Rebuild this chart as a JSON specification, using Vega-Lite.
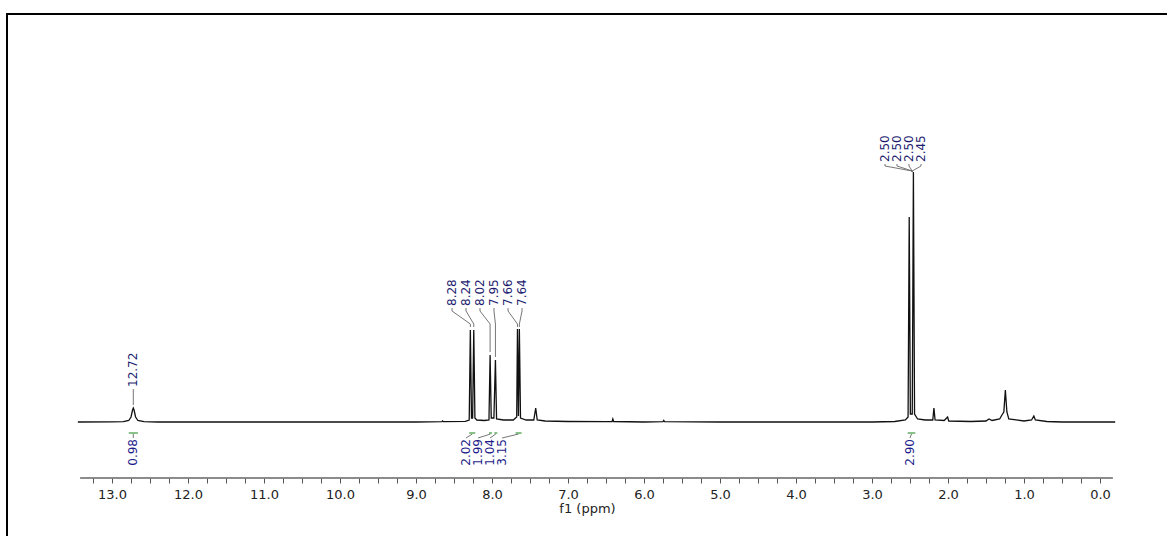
{
  "$schema": "https://vega.github.io/schema/vega-lite/v6.json",
  "autosize": "none",
  "width": 1160,
  "height": 522,
  "padding": {"left": 7, "top": 14, "right": 0, "bottom": 0},
  "background": "white",
  "config": {
    "view": {"stroke": "#000", "strokeWidth": 2, "strokeDash": [1160, 1682, 522]},
    "font": "DejaVu Sans"
  },
  "datasets": {
    "spec": [
      {"ppm": 13.45, "i": 0}, {"ppm": 13.0, "i": 0.2}, {"ppm": 12.85, "i": 0.4}, {"ppm": 12.78, "i": 1.5},
      {"ppm": 12.75, "i": 5}, {"ppm": 12.73, "i": 12}, {"ppm": 12.72, "i": 14}, {"ppm": 12.71, "i": 12},
      {"ppm": 12.69, "i": 5}, {"ppm": 12.66, "i": 1.5}, {"ppm": 12.58, "i": 0.4}, {"ppm": 12.4, "i": 0},
      {"ppm": 11.0, "i": 0}, {"ppm": 10.0, "i": 0}, {"ppm": 9.0, "i": 0}, {"ppm": 8.66, "i": 0.3},
      {"ppm": 8.65, "i": 1}, {"ppm": 8.64, "i": 0.3}, {"ppm": 8.35, "i": 0.6}, {"ppm": 8.30, "i": 2},
      {"ppm": 8.285, "i": 92}, {"ppm": 8.27, "i": 4}, {"ppm": 8.255, "i": 4}, {"ppm": 8.24, "i": 92},
      {"ppm": 8.225, "i": 4}, {"ppm": 8.2, "i": 2}, {"ppm": 8.1, "i": 1.5}, {"ppm": 8.04, "i": 2},
      {"ppm": 8.025, "i": 67}, {"ppm": 8.01, "i": 4}, {"ppm": 7.975, "i": 4}, {"ppm": 7.955, "i": 62},
      {"ppm": 7.94, "i": 3}, {"ppm": 7.85, "i": 2}, {"ppm": 7.72, "i": 2}, {"ppm": 7.675, "i": 5},
      {"ppm": 7.665, "i": 93}, {"ppm": 7.652, "i": 6}, {"ppm": 7.64, "i": 93}, {"ppm": 7.625, "i": 4},
      {"ppm": 7.55, "i": 2}, {"ppm": 7.45, "i": 2}, {"ppm": 7.425, "i": 14}, {"ppm": 7.405, "i": 2},
      {"ppm": 7.3, "i": 1}, {"ppm": 7.0, "i": 0.5}, {"ppm": 6.5, "i": 0.3}, {"ppm": 6.42, "i": 0.5},
      {"ppm": 6.41, "i": 3}, {"ppm": 6.40, "i": 0.5}, {"ppm": 6.0, "i": 0}, {"ppm": 5.75, "i": 0.3},
      {"ppm": 5.74, "i": 1.5}, {"ppm": 5.73, "i": 0.3}, {"ppm": 5.0, "i": 0}, {"ppm": 4.0, "i": 0},
      {"ppm": 3.0, "i": 0}, {"ppm": 2.7, "i": 0.5}, {"ppm": 2.56, "i": 2}, {"ppm": 2.525, "i": 5},
      {"ppm": 2.51, "i": 205}, {"ppm": 2.495, "i": 8}, {"ppm": 2.47, "i": 8}, {"ppm": 2.455, "i": 250},
      {"ppm": 2.44, "i": 8}, {"ppm": 2.40, "i": 3}, {"ppm": 2.3, "i": 2}, {"ppm": 2.2, "i": 2},
      {"ppm": 2.185, "i": 14}, {"ppm": 2.17, "i": 2}, {"ppm": 2.05, "i": 1.5}, {"ppm": 2.005, "i": 5},
      {"ppm": 1.99, "i": 1}, {"ppm": 1.7, "i": 0.5}, {"ppm": 1.5, "i": 1}, {"ppm": 1.46, "i": 3},
      {"ppm": 1.42, "i": 1.5}, {"ppm": 1.32, "i": 3}, {"ppm": 1.29, "i": 7}, {"ppm": 1.265, "i": 10},
      {"ppm": 1.245, "i": 32}, {"ppm": 1.225, "i": 10}, {"ppm": 1.2, "i": 3}, {"ppm": 1.0, "i": 1},
      {"ppm": 0.9, "i": 2}, {"ppm": 0.87, "i": 6}, {"ppm": 0.85, "i": 2}, {"ppm": 0.7, "i": 0.5},
      {"ppm": 0.5, "i": 0}, {"ppm": -0.2, "i": 0}
    ],
    "axisline": [{"ppm": 13.42, "ppm2": -0.17, "i": -56}],
    "conn": [
      {"id": "a1", "o": 1, "ppm": 8.526, "i": 114}, {"id": "a1", "o": 2, "ppm": 8.526, "i": 111}, {"id": "a1", "o": 3, "ppm": 8.285, "i": 98}, {"id": "a1", "o": 4, "ppm": 8.285, "i": 95},
      {"id": "a2", "o": 1, "ppm": 8.342, "i": 114}, {"id": "a2", "o": 2, "ppm": 8.342, "i": 111}, {"id": "a2", "o": 3, "ppm": 8.24, "i": 98}, {"id": "a2", "o": 4, "ppm": 8.24, "i": 95},
      {"id": "a3", "o": 1, "ppm": 8.158, "i": 114}, {"id": "a3", "o": 2, "ppm": 8.158, "i": 111}, {"id": "a3", "o": 3, "ppm": 8.025, "i": 98}, {"id": "a3", "o": 4, "ppm": 8.025, "i": 70},
      {"id": "a4", "o": 1, "ppm": 7.974, "i": 114}, {"id": "a4", "o": 2, "ppm": 7.974, "i": 111}, {"id": "a4", "o": 3, "ppm": 7.955, "i": 98}, {"id": "a4", "o": 4, "ppm": 7.955, "i": 65},
      {"id": "a5", "o": 1, "ppm": 7.789, "i": 114}, {"id": "a5", "o": 2, "ppm": 7.789, "i": 111}, {"id": "a5", "o": 3, "ppm": 7.665, "i": 98}, {"id": "a5", "o": 4, "ppm": 7.665, "i": 95},
      {"id": "a6", "o": 1, "ppm": 7.605, "i": 114}, {"id": "a6", "o": 2, "ppm": 7.605, "i": 111}, {"id": "a6", "o": 3, "ppm": 7.64, "i": 98}, {"id": "a6", "o": 4, "ppm": 7.64, "i": 95},
      {"id": "b1", "o": 1, "ppm": 2.829, "i": 258}, {"id": "b1", "o": 2, "ppm": 2.829, "i": 256}, {"id": "b1", "o": 3, "ppm": 2.47, "i": 251}, {"id": "b1", "o": 4, "ppm": 2.47, "i": 250},
      {"id": "b2", "o": 1, "ppm": 2.671, "i": 258}, {"id": "b2", "o": 2, "ppm": 2.671, "i": 256}, {"id": "b2", "o": 3, "ppm": 2.47, "i": 251}, {"id": "b2", "o": 4, "ppm": 2.47, "i": 250},
      {"id": "b3", "o": 1, "ppm": 2.513, "i": 258}, {"id": "b3", "o": 2, "ppm": 2.513, "i": 256}, {"id": "b3", "o": 3, "ppm": 2.47, "i": 251}, {"id": "b3", "o": 4, "ppm": 2.47, "i": 250},
      {"id": "b4", "o": 1, "ppm": 2.355, "i": 258}, {"id": "b4", "o": 2, "ppm": 2.355, "i": 256}, {"id": "b4", "o": 3, "ppm": 2.47, "i": 251}, {"id": "b4", "o": 4, "ppm": 2.47, "i": 250},
      {"id": "c1", "o": 1, "ppm": 12.72, "i": 33}, {"id": "c1", "o": 2, "ppm": 12.72, "i": 17},
      {"id": "d1", "o": 1, "ppm": 12.72, "i": -16}, {"id": "d1", "o": 2, "ppm": 12.72, "i": -12},
      {"id": "d2", "o": 1, "ppm": 8.342, "i": -16}, {"id": "d2", "o": 2, "ppm": 8.26, "i": -12},
      {"id": "d3", "o": 1, "ppm": 8.184, "i": -16}, {"id": "d3", "o": 2, "ppm": 8.02, "i": -12},
      {"id": "d4", "o": 1, "ppm": 8.026, "i": -16}, {"id": "d4", "o": 2, "ppm": 7.95, "i": -12},
      {"id": "d5", "o": 1, "ppm": 7.868, "i": -16}, {"id": "d5", "o": 2, "ppm": 7.65, "i": -12},
      {"id": "d6", "o": 1, "ppm": 2.5, "i": -16}, {"id": "d6", "o": 2, "ppm": 2.48, "i": -12}
    ],
    "plabels": [
      {"ppm": 8.526, "i": 116, "t": "8.28"}, {"ppm": 8.342, "i": 116, "t": "8.24"},
      {"ppm": 8.158, "i": 116, "t": "8.02"}, {"ppm": 7.974, "i": 116, "t": "7.95"},
      {"ppm": 7.789, "i": 116, "t": "7.66"}, {"ppm": 7.605, "i": 116, "t": "7.64"},
      {"ppm": 2.829, "i": 260, "t": "2.50"}, {"ppm": 2.671, "i": 260, "t": "2.50"},
      {"ppm": 2.513, "i": 260, "t": "2.50"}, {"ppm": 2.355, "i": 260, "t": "2.45"},
      {"ppm": 12.72, "i": 35, "t": "12.72"}
    ],
    "integ": [
      {"ppm": 12.78, "ppm2": 12.66, "i": -11}, {"ppm": 8.30, "ppm2": 8.22, "i": -11},
      {"ppm": 8.04, "ppm2": 8.00, "i": -11}, {"ppm": 7.97, "ppm2": 7.93, "i": -11},
      {"ppm": 7.69, "ppm2": 7.61, "i": -11}, {"ppm": 2.53, "ppm2": 2.43, "i": -11}
    ],
    "ilabels": [
      {"ppm": 12.72, "i": -17, "t": "0.98"}, {"ppm": 8.342, "i": -17, "t": "2.02"},
      {"ppm": 8.184, "i": -17, "t": "1.99"}, {"ppm": 8.026, "i": -17, "t": "1.04"},
      {"ppm": 7.868, "i": -17, "t": "3.15"}, {"ppm": 2.5, "i": -17, "t": "2.90"}
    ]
  },
  "encoding": {
    "x": {
      "field": "ppm", "type": "quantitative",
      "scale": {"domain": [-0.882, 14.382], "reverse": true, "nice": false, "zero": false},
      "axis": {
        "title": "f1 (ppm)", "offset": -58, "domain": false, "grid": false,
        "values": [13.25, 13, 12.75, 12.5, 12.25, 12, 11.75, 11.5, 11.25, 11, 10.75, 10.5, 10.25, 10, 9.75, 9.5, 9.25, 9, 8.75, 8.5, 8.25, 8, 7.75, 7.5, 7.25, 7, 6.75, 6.5, 6.25, 6, 5.75, 5.5, 5.25, 5, 4.75, 4.5, 4.25, 4, 3.75, 3.5, 3.25, 3, 2.75, 2.5, 2.25, 2, 1.75, 1.5, 1.25, 1, 0.75, 0.5, 0.25, 0],
        "labelExpr": "datum.value % 1 == 0 ? format(datum.value, '.1f') : ''",
        "labelOverlap": false, "labelFlush": false,
        "tickSize": 5, "tickColor": "#555", "tickWidth": 1,
        "labelFont": "DejaVu Sans", "labelFontSize": 13, "labelColor": "#222", "labelPadding": 5,
        "titleFont": "DejaVu Sans", "titleFontSize": 13, "titleFontWeight": "normal", "titleColor": "#222", "titlePadding": 1
      }
    },
    "y": {"field": "i", "type": "quantitative", "scale": {"domain": [-114, 408], "nice": false, "zero": false}, "axis": null}
  },
  "layer": [
    {
      "data": {"name": "spec"},
      "mark": {"type": "line", "color": "#111", "strokeWidth": 1.3, "interpolate": "linear"}
    },
    {
      "data": {"name": "axisline"},
      "mark": {"type": "rule", "color": "#666", "strokeWidth": 1.5},
      "encoding": {"x2": {"field": "ppm2"}}
    },
    {
      "data": {"name": "conn"},
      "mark": {"type": "line", "color": "#666", "strokeWidth": 0.9},
      "encoding": {
        "detail": {"field": "id"},
        "order": {"field": "o"}
      }
    },
    {
      "data": {"name": "integ"},
      "mark": {"type": "rule", "color": "#3a9a3a", "strokeWidth": 1.2},
      "encoding": {"x2": {"field": "ppm2"}}
    },
    {
      "data": {"name": "plabels"},
      "mark": {"type": "text", "angle": 270, "align": "left", "baseline": "middle", "font": "DejaVu Sans", "fontSize": 12, "color": "#1c1c70"},
      "encoding": {"text": {"field": "t"}}
    },
    {
      "data": {"name": "ilabels"},
      "mark": {"type": "text", "angle": 270, "align": "right", "baseline": "middle", "font": "DejaVu Sans", "fontSize": 12, "color": "#1c1c8a"},
      "encoding": {"text": {"field": "t"}}
    }
  ]
}
